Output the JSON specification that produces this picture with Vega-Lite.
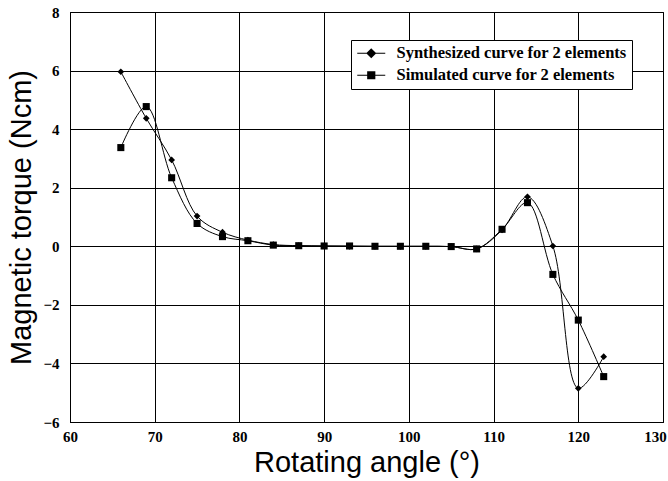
{
  "$schema": "https://vega.github.io/schema/vega-lite/v6.json",
  "width": 593,
  "height": 410,
  "autosize": {"type": "none"},
  "padding": {"left": 70, "top": 12, "right": 5, "bottom": 59},
  "background": "white",
  "config": {
    "view": {"stroke": "black", "strokeWidth": 1},
    "axis": {
      "domainColor": "black",
      "gridColor": "black",
      "gridOpacity": 1,
      "gridWidth": 1,
      "ticks": false,
      "labelFont": "Liberation Serif",
      "labelFontWeight": "bold",
      "labelFontSize": 15,
      "labelColor": "black",
      "titleFont": "Liberation Sans",
      "titleFontWeight": "normal",
      "titleFontSize": 29,
      "titleColor": "black"
    }
  },
  "data": {
    "values": [
      {"angle": 66, "torque": 5.96, "series": "Synthesized curve for 2 elements"},
      {"angle": 69, "torque": 4.37, "series": "Synthesized curve for 2 elements"},
      {"angle": 72, "torque": 2.95, "series": "Synthesized curve for 2 elements"},
      {"angle": 75, "torque": 1.03, "series": "Synthesized curve for 2 elements"},
      {"angle": 78, "torque": 0.48, "series": "Synthesized curve for 2 elements"},
      {"angle": 81, "torque": 0.21, "series": "Synthesized curve for 2 elements"},
      {"angle": 84, "torque": 0.06, "series": "Synthesized curve for 2 elements"},
      {"angle": 87, "torque": 0.02, "series": "Synthesized curve for 2 elements"},
      {"angle": 90, "torque": 0.01, "series": "Synthesized curve for 2 elements"},
      {"angle": 93, "torque": 0.0, "series": "Synthesized curve for 2 elements"},
      {"angle": 96, "torque": 0.0, "series": "Synthesized curve for 2 elements"},
      {"angle": 99, "torque": 0.0, "series": "Synthesized curve for 2 elements"},
      {"angle": 102, "torque": 0.0, "series": "Synthesized curve for 2 elements"},
      {"angle": 105, "torque": -0.01, "series": "Synthesized curve for 2 elements"},
      {"angle": 108, "torque": -0.09, "series": "Synthesized curve for 2 elements"},
      {"angle": 111, "torque": 0.56, "series": "Synthesized curve for 2 elements"},
      {"angle": 114, "torque": 1.69, "series": "Synthesized curve for 2 elements"},
      {"angle": 117, "torque": 0.01, "series": "Synthesized curve for 2 elements"},
      {"angle": 120, "torque": -4.85, "series": "Synthesized curve for 2 elements"},
      {"angle": 123, "torque": -3.77, "series": "Synthesized curve for 2 elements"},
      {"angle": 66, "torque": 3.37, "series": "Simulated curve for 2 elements"},
      {"angle": 69, "torque": 4.77, "series": "Simulated curve for 2 elements"},
      {"angle": 72, "torque": 2.34, "series": "Simulated curve for 2 elements"},
      {"angle": 75, "torque": 0.78, "series": "Simulated curve for 2 elements"},
      {"angle": 78, "torque": 0.33, "series": "Simulated curve for 2 elements"},
      {"angle": 81, "torque": 0.19, "series": "Simulated curve for 2 elements"},
      {"angle": 84, "torque": 0.04, "series": "Simulated curve for 2 elements"},
      {"angle": 87, "torque": 0.02, "series": "Simulated curve for 2 elements"},
      {"angle": 90, "torque": 0.01, "series": "Simulated curve for 2 elements"},
      {"angle": 93, "torque": 0.01, "series": "Simulated curve for 2 elements"},
      {"angle": 96, "torque": 0.0, "series": "Simulated curve for 2 elements"},
      {"angle": 99, "torque": 0.0, "series": "Simulated curve for 2 elements"},
      {"angle": 102, "torque": 0.0, "series": "Simulated curve for 2 elements"},
      {"angle": 105, "torque": -0.01, "series": "Simulated curve for 2 elements"},
      {"angle": 108, "torque": -0.09, "series": "Simulated curve for 2 elements"},
      {"angle": 111, "torque": 0.58, "series": "Simulated curve for 2 elements"},
      {"angle": 114, "torque": 1.49, "series": "Simulated curve for 2 elements"},
      {"angle": 117, "torque": -0.96, "series": "Simulated curve for 2 elements"},
      {"angle": 120, "torque": -2.52, "series": "Simulated curve for 2 elements"},
      {"angle": 123, "torque": -4.45, "series": "Simulated curve for 2 elements"}
    ]
  },
  "encoding": {
    "x": {
      "field": "angle", "type": "quantitative",
      "scale": {"domain": [60, 130], "nice": false, "zero": false},
      "axis": {
        "values": [60, 70, 80, 90, 100, 110, 120, 130],
        "title": "Rotating angle (°)",
        "labelPadding": 7,
        "titlePadding": 4,
        "labelFlush": false,
        "labelOffset": {"condition": {"test": "datum.value === 130", "value": -8}, "value": 0}
      }
    },
    "y": {
      "field": "torque", "type": "quantitative",
      "scale": {"domain": [-6, 8], "nice": false, "zero": false},
      "axis": {"values": [-6, -4, -2, 0, 2, 4, 6, 8], "title": "Magnetic torque  (Ncm)", "labelPadding": 11, "titlePadding": 6, "labelFlush": false}
    }
  },
  "layer": [
    {
      "mark": {"type": "line", "interpolate": "catmull-rom", "color": "black", "strokeWidth": 1},
      "encoding": {"detail": {"field": "series"}}
    },
    {
      "transform": [{"filter": "datum.series === 'Synthesized curve for 2 elements'"}],
      "mark": {"type": "point", "shape": "diamond", "filled": true, "color": "black", "opacity": 1, "size": 45}
    },
    {
      "transform": [{"filter": "datum.series === 'Simulated curve for 2 elements'"}],
      "mark": {"type": "point", "shape": "square", "filled": true, "color": "black", "opacity": 1, "size": 50}
    },
    {
      "transform": [{"filter": "datum.angle < 0"}],
      "mark": {"type": "point", "filled": false, "color": "black", "strokeWidth": 1.2, "opacity": 1},
      "encoding": {
        "shape": {
          "field": "series", "type": "nominal",
          "scale": {
            "domain": ["Synthesized curve for 2 elements", "Simulated curve for 2 elements"],
            "range": [
              "M-1,0L3,0M1,-0.6L1.6,0L1,0.6L0.4,0ZM1,-0.45L1.45,0L1,0.45L0.55,0ZM1,-0.3L1.3,0L1,0.3L0.7,0ZM1,-0.15L1.15,0L1,0.15L0.85,0Z",
              "M-1,0L3,0M0.5,-0.5L1.5,-0.5L1.5,0.5L0.5,0.5ZM0.64,-0.36L1.36,-0.36L1.36,0.36L0.64,0.36ZM0.78,-0.22L1.22,-0.22L1.22,0.22L0.78,0.22ZM0.92,-0.08L1.08,-0.08L1.08,0.08L0.92,0.08Z"
            ]
          },
          "legend": {
            "title": null,
            "orient": "none",
            "legendX": 281,
            "legendY": 28,
            "padding": 5,
            "strokeColor": "black",
            "fillColor": "white",
            "symbolSize": 196,
            "symbolStrokeWidth": 1.2,
            "symbolStrokeColor": "black",
            "symbolOpacity": 1,
            "labelFont": "Liberation Serif",
            "labelFontWeight": "bold",
            "labelFontSize": 16.5,
            "labelColor": "black",
            "labelLimit": 0,
            "labelOffset": 24,
            "rowPadding": 5
          }
        }
      }
    }
  ]
}
